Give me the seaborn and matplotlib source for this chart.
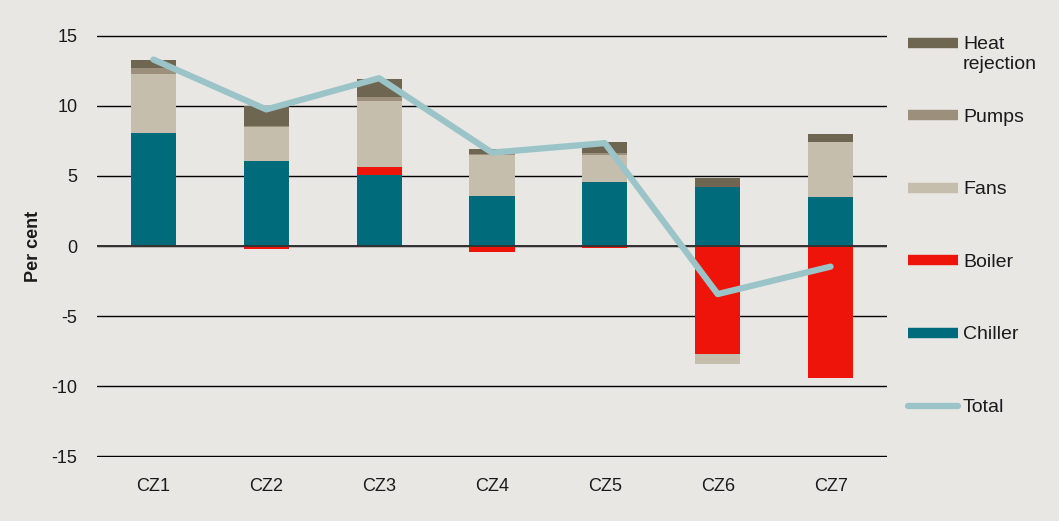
import numpy as np
import matplotlib
matplotlib.use("Agg")
import matplotlib.pyplot as plt
import matplotlib.transforms as mtransforms
from matplotlib.lines import Line2D
from matplotlib.legend_handler import HandlerLine2D
import seaborn as sns

categories = ["CZ1", "CZ2", "CZ3", "CZ4", "CZ5", "CZ6", "CZ7"]
chiller = [8.05, 6.06, 5.07, 3.55, 4.60, 4.22, 3.48]
boiler = [-0.10, -0.24, 0.55, -0.43, -0.14, -7.70, -9.40]
fans = [4.25, 2.40, 4.73, 2.94, 1.92, -0.71, 3.94]
pumps = [0.42, 0.10, 0.27, 0.08, 0.11, 0.00, 0.00]
heat_rejection = [0.57, 1.41, 1.30, 0.35, 0.76, 0.66, 0.54]
total = [13.3, 9.74, 11.97, 6.66, 7.34, -3.43, -1.47]
yticks = [-15, -10, -5, 0, 5, 10, 15]

series = [("Chiller", chiller, "#006B7A"),
          ("Boiler", boiler, "#EE1409"),
          ("Fans", fans, "#C5BEAC"),
          ("Pumps", pumps, "#9C8F7B"),
          ("Heat rejection", heat_rejection, "#6E6651")]
total_color = "#9BC4C8"
bg = "#E8E7E3"

sns.set_style("white")
plt.rcParams["font.family"] = ["Liberation Sans", "DejaVu Sans"]

fig = plt.figure(figsize=(10.59, 5.21), dpi=100, facecolor=bg)
ax = fig.add_axes([97 / 1059, 1 - 457 / 521, 790 / 1059, 422 / 521])
ax.set_facecolor(bg)

pos_base = np.zeros(len(categories))
neg_base = np.zeros(len(categories))
for name, vals, col in series:
    v = np.array(vals, dtype=float)
    bottoms = np.where(v >= 0, pos_base, neg_base)
    sns.barplot(x=categories, y=v, order=categories, bottom=bottoms, color=col,
                saturation=1, width=0.4, errorbar=None, ax=ax, linewidth=0, zorder=2)
    pos_base = pos_base + np.where(v >= 0, v, 0)
    neg_base = neg_base + np.where(v < 0, v, 0)

ax.axhline(0, color="#333333", lw=1.4, zorder=3)
sns.lineplot(x=np.arange(len(categories)), y=total, color=total_color, lw=4.5,
             sort=False, ax=ax, zorder=4, solid_capstyle="round")

ax.set_ylim(-15.05, 15.05)
ax.set_xlim(-0.5, len(categories) - 0.5)
ax.set_yticks(yticks)
ax.set_yticklabels([str(t) for t in yticks])
ax.yaxis.grid(True, color="black", lw=1.0, zorder=0)
ax.xaxis.grid(False)
ax.set_axisbelow(True)
for s in ax.spines.values():
    s.set_visible(False)
ax.tick_params(axis="both", length=0, labelsize=13, colors="#1a1a1a")
ax.tick_params(axis="y", pad=14)
ax.tick_params(axis="x", pad=15)
ax.set_xlabel("")
ax.set_ylabel("Per cent", fontsize=13, fontweight="bold", color="#1a1a1a", labelpad=7)


class TopHandler(HandlerLine2D):
    def __init__(self, shift, **kw):
        super().__init__(**kw)
        self.shift = shift

    def create_artists(self, legend, orig_handle, xdescent, ydescent, width, height,
                       fontsize, trans):
        arts = super().create_artists(legend, orig_handle, xdescent, ydescent, width,
                                      height, fontsize, trans)
        for a in arts:
            a.set_transform(mtransforms.Affine2D().translate(0, self.shift) + trans)
        return arts


handles = []
labels = []
hmap = {}
for name, vals, col in reversed(series):
    h = Line2D([0, 1], [0, 1], color=col, lw=7.5, solid_capstyle="butt")
    handles.append(h)
    labels.append("Heat\nrejection" if name == "Heat rejection" else name + "\n")
    hmap[h] = TopHandler(8.1)
ht = Line2D([0, 1], [0, 1], color=total_color, lw=4.5, solid_capstyle="round")
handles.append(ht)
labels.append("Total\n")
hmap[ht] = TopHandler(8.1)

fig.legend(handles, labels, handler_map=hmap, loc="upper left",
           bbox_to_anchor=(908 / 1059, 1 - 36 / 521), frameon=False,
           borderaxespad=0, borderpad=0, fontsize=14, handlelength=2.57,
           handletextpad=0.26, labelspacing=1.85, labelcolor="#1a1a1a")

fig.savefig("out.png", dpi=100, facecolor=bg)
